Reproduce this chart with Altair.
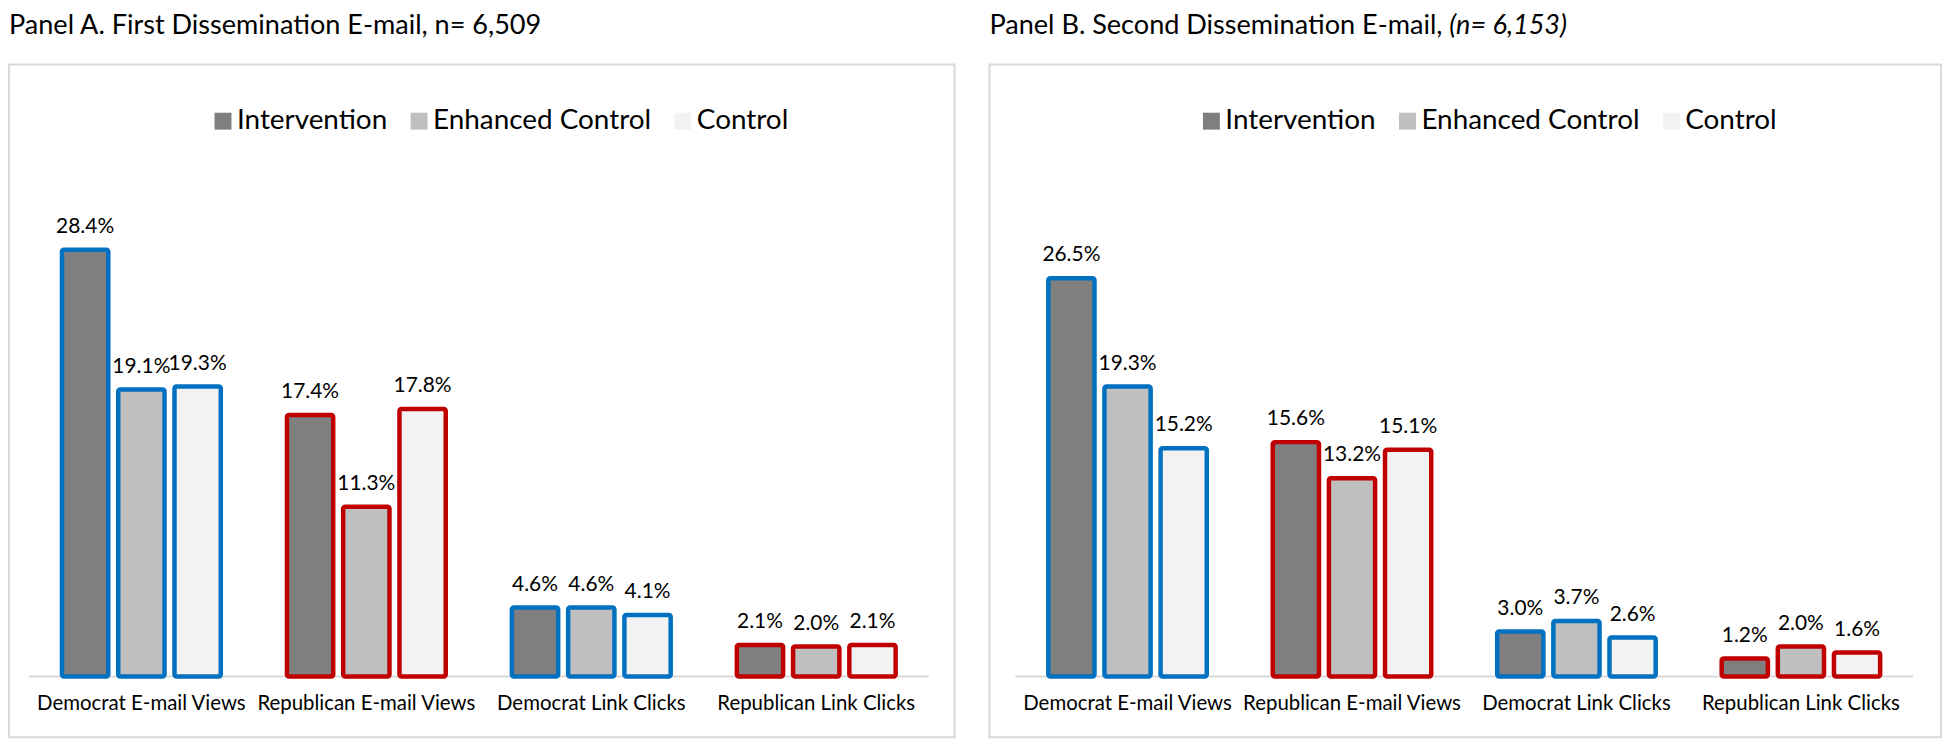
import altair as alt
import pandas as pd

# ---------------- data ----------------
categories = ["Democrat E-mail Views", "Republican E-mail Views",
              "Democrat Link Clicks", "Republican Link Clicks"]
parties = ["Democrat", "Republican", "Democrat", "Republican"]
groups = ["Intervention", "Enhanced Control", "Control"]

panel_a_intervention = [28.4, 17.4, 4.6, 2.1]
panel_a_enhanced = [19.1, 11.3, 4.6, 2.0]
panel_a_control = [19.3, 17.8, 4.1, 2.1]

panel_b_intervention = [26.5, 15.6, 3.0, 1.2]
panel_b_enhanced = [19.3, 13.2, 3.7, 2.0]
panel_b_control = [15.2, 15.1, 2.6, 1.6]

title_a = "Panel A. First Dissemination E-mail, n= 6,509"
title_b_main = "Panel B. Second Dissemination E-mail,"
title_b_italic = "(n= 6,153)"

# ---------------- style ----------------
FONT = "Lato"
fill_colors = ["#7f7f7f", "#bfbfbf", "#f2f2f2"]
party_domain = ["Democrat", "Republican"]
party_colors = ["#0070c0", "#c00000"]
GRID = "#d9d9d9"


def make_df(series):
    rows = []
    for g, vals in zip(groups, series):
        for c, p, v in zip(categories, parties, vals):
            rows.append({"category": c, "party": p, "group": g,
                         "value": v, "label": f"{v:.1f}%"})
    return pd.DataFrame(rows)


def panel(df, width, height, xrange, legend_x, title_parts):
    x = alt.X("category:N", sort=categories, axis=None,
              scale=alt.Scale(range=xrange, paddingInner=0.294, paddingOuter=0.147))
    xo = alt.XOffset("group:N", sort=groups,
                     scale=alt.Scale(paddingInner=0.177, paddingOuter=0))
    y = alt.Y("value:Q", axis=None,
              scale=alt.Scale(domain=[-4.04, 40.73], nice=False, zero=False))

    base = alt.Chart(df)

    zero_df = pd.DataFrame({"value": [0]})
    baseline = alt.Chart(zero_df).mark_rule(color=GRID, strokeWidth=2).encode(
        y=alt.Y("value:Q", axis=None),
        x=alt.value(xrange[0]), x2=alt.value(xrange[1]))

    bars = base.mark_bar(strokeWidth=4.5, cornerRadius=2).encode(
        x=x, xOffset=xo, y=y, y2=alt.datum(0),
        fill=alt.Fill("group:N", sort=groups,
                      scale=alt.Scale(domain=groups, range=fill_colors),
                      legend=alt.Legend(orient="none", legendX=legend_x, legendY=43,
                                        direction="horizontal", title=None,
                                        symbolType="square", symbolSize=289,
                                        symbolStrokeWidth=0, labelFont=FONT,
                                        labelFontSize=28, labelColor="black",
                                        labelOffset=0, columnPadding=17,
                                        labelLimit=500)),
        stroke=alt.Stroke("party:N", scale=alt.Scale(domain=party_domain, range=party_colors),
                          legend=None))

    labels = base.mark_text(font=FONT, fontSize=21, color="black",
                            baseline="alphabetic", dy=-17).encode(
        x=x, xOffset=xo, y=y, text="label:N")

    cats = alt.Chart(pd.DataFrame({"category": categories})).mark_text(
        font=FONT, fontSize=20.5, color="black", baseline="alphabetic", dy=34).encode(
        x=x, y=alt.datum(0), text="category:N")

    layers = [baseline, bars, labels, cats]
    for text, xpos, italic in title_parts:
        tdf = pd.DataFrame({"t": [text]})
        kw = dict(font=FONT, fontSize=27.2, align="left", baseline="top", color="black")
        if italic:
            kw["fontStyle"] = "italic"
        layers.append(alt.Chart(tdf).mark_text(**kw).encode(
            x=alt.value(xpos), y=alt.value(-52), text="t:N"))

    return alt.layer(*layers).properties(width=width, height=height)


df_a = make_df([panel_a_intervention, panel_a_enhanced, panel_a_control])
df_b = make_df([panel_b_intervention, panel_b_enhanced, panel_b_control])

pa = panel(df_a, 950, 676, [20, 924], 201, [(title_a, 0, False)])
pb = panel(df_b, 956, 676, [26, 928], 209,
           [(title_b_main, 0, False), (title_b_italic, 462, True)])

chart = alt.hconcat(pa, pb, spacing=33).resolve_scale(
    x="independent", xOffset="independent", y="independent",
    fill="independent", stroke="independent"
).resolve_legend(fill="independent").configure_view(
    stroke=GRID, strokeWidth=2
).properties(padding={"left": 0, "top": 1, "right": 0, "bottom": 0})

chart.save("out.html", embed_options={"renderer": "svg", "actions": False})
